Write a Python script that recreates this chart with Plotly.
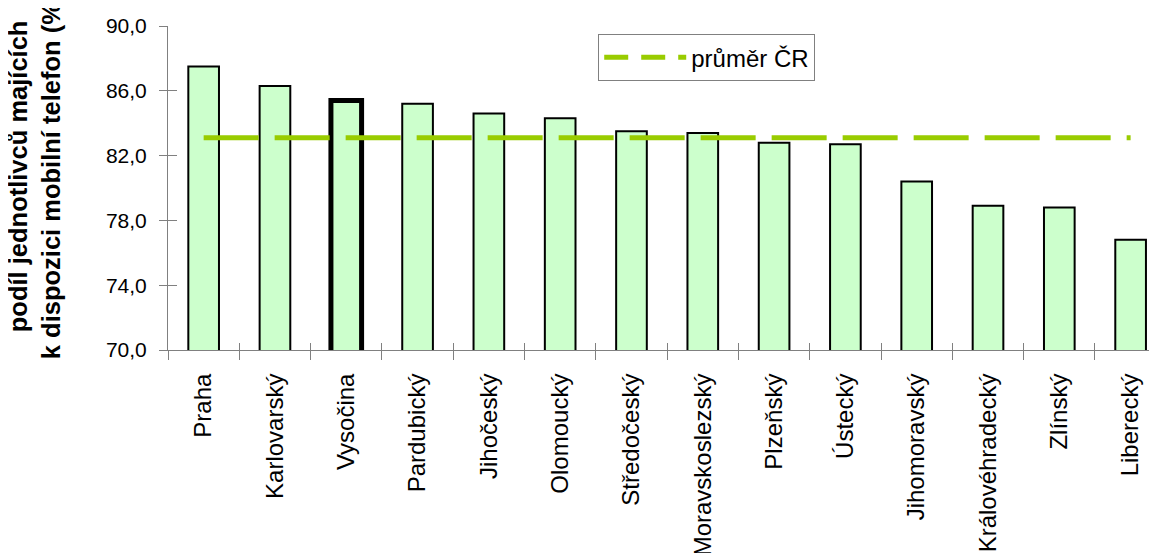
import plotly.graph_objects as go

# podíl jednotlivců majících k dispozici mobilní telefon, podle krajů
regiony = ['Praha', 'Karlovarský', 'Vysočina', 'Pardubický', 'Jihočeský',
           'Olomoucký', 'Středočeský', 'Moravskoslezský', 'Plzeňský', 'Ústecký',
           'Jihomoravský', 'Královéhradecký', 'Zlínský', 'Liberecký']
podil = [87.5, 86.3, 85.4, 85.2, 84.6, 84.3, 83.5, 83.4, 82.8, 82.7,
         80.4, 78.9, 78.8, 76.8]
prumer_cr = 83.1
zvyrazneny = 'Vysočina'

font = 'Liberation Sans, Arial, sans-serif'
zelena = '#99CC00'

bars = go.Bar(
    x=regiony,
    y=podil,
    width=0.43,
    marker=dict(
        color='#CCFFCC',
        line=dict(color='black',
                  width=[5 if r == zvyrazneny else 2 for r in regiony])
    ),
    showlegend=False,
    hoverinfo='x+y'
)

# Average line drawn across all regions
prumer = go.Scatter(
    x=regiony,
    y=[prumer_cr] * len(regiony),
    mode='lines',
    line=dict(color=zelena, width=5, dash='55px,16px'),
    showlegend=False,
    name='průměr ČR'
)

# Legend-only entry (so the legend symbol shows two dashes);
# it also gives the overlay axes their categories for the inner tick marks.
legenda = go.Scatter(
    x=regiony,
    y=[None] * len(regiony),
    mode='lines',
    line=dict(color=zelena, width=5, dash='24px,13px'),
    name='průměr ČR',
    xaxis='x2',
    yaxis='y2',
    hoverinfo='skip'
)

fig = go.Figure(data=[bars, prumer, legenda])

xrange = [-0.5, 13.37]
yrange = [70, 90]

# The page body adds an 8px offset, so the figure is 8px smaller than the window
fig.update_layout(
    width=1149,
    height=545,
    margin=dict(l=160, r=0, t=18, b=203),
    plot_bgcolor='white',
    paper_bgcolor='white',
    separators=', ',
    font=dict(family=font, color='black'),
    xaxis=dict(
        type='category',
        range=xrange,
        automargin=False,
        showline=True, linecolor='#808080', linewidth=1,
        ticks='outside', ticklen=9, tickcolor='#808080',
        tickson='boundaries',
        tickangle=-90,
        tickfont=dict(size=24, family=font, color='black'),
        ticklabelstandoff=13,
        showgrid=False, zeroline=False
    ),
    yaxis=dict(
        range=yrange,
        tick0=70,
        dtick=4,
        tickformat='.1f',
        automargin=False,
        showline=True, linecolor='#808080', linewidth=1,
        ticks='outside', ticklen=8, tickcolor='#808080',
        tickfont=dict(size=21, family=font, color='black'),
        ticklabelstandoff=8,
        showgrid=False, zeroline=False
    ),
    xaxis2=dict(
        type='category', overlaying='x', anchor='y', side='bottom',
        range=xrange, automargin=False,
        ticks='inside', ticklen=7, tickcolor='#808080', tickson='boundaries',
        showticklabels=False, showline=False, showgrid=False, zeroline=False
    ),
    yaxis2=dict(
        overlaying='y', anchor='x', side='left',
        range=yrange, tick0=70, dtick=4, automargin=False,
        ticks='inside', ticklen=9, tickcolor='#808080',
        showticklabels=False, showline=False, showgrid=False, zeroline=False
    ),
    legend=dict(
        x=0.435, y=0.975, xanchor='left', yanchor='top',
        bgcolor='white', bordercolor='#808080', borderwidth=1,
        font=dict(size=24, family=font, color='black'),
        itemwidth=82
    ),
    annotations=[dict(
        text='podíl jednotlivců majících<br>k dispozici mobilní telefon (%)',
        textangle=-90,
        xref='paper', yref='paper',
        x=-0.135, y=0.538,
        xanchor='center', yanchor='middle',
        showarrow=False,
        font=dict(size=25.5, family=font, color='black', weight='bold')
    )]
)

fig.write_html('out.html')
